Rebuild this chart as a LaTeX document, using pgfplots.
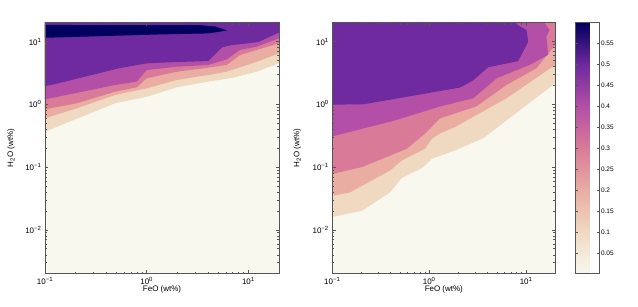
\documentclass[border=0pt]{standalone}
\usepackage{fontspec}
\setmainfont{Liberation Sans}
\usepackage{pgfplots}
\pgfplotsset{compat=1.18}
\definecolor{cCream}{RGB}{248,248,238}
\definecolor{cPeach}{RGB}{240,217,193}
\definecolor{cLPink}{RGB}{233,173,162}
\definecolor{cPink}{RGB}{217,123,152}
\definecolor{cMag}{RGB}{179,79,166}
\definecolor{cPurp}{RGB}{110,42,158}
\definecolor{cNavy}{RGB}{1,0,94}
\definecolor{axgray}{RGB}{85,85,85}
\begin{document}
\begin{tikzpicture}
\path[use as bounding box] (0,0) rectangle (638bp,307bp);
% ---------------- left panel ----------------
\begin{axis}[at={(45bp,33.3bp)}, anchor=south west, width=234bp, height=251bp,
    xmode=log, ymode=log, scale only axis,
    xmin=0.1, xmax=20, ymin=0.002, ymax=20,
    axis on top,
    axis background/.style={fill=cCream},
    axis line style={axgray, line width=0.8bp},
    tick style={axgray, line width=0.5bp},
    tick align=inside,
    xtick={0.1,1,10},
    xticklabels={10\textsuperscript{−1},10\textsuperscript{0},10\textsuperscript{1}},
    minor xtick={0.2,0.3,0.4,0.5,0.6,0.7,0.8,0.9,2,3,4,5,6,7,8,9,20},
    ytick={0.01,0.1,1,10},
    yticklabels={10\textsuperscript{−2},10\textsuperscript{−1},10\textsuperscript{0},10\textsuperscript{1}},
    minor ytick={0.002,0.003,0.004,0.005,0.006,0.007,0.008,0.009,0.02,0.03,0.04,0.05,0.06,0.07,0.08,0.09,0.2,0.3,0.4,0.5,0.6,0.7,0.8,0.9,2,3,4,5,6,7,8,9,20},
    major tick length=3.5bp, minor tick length=2bp,
    tick label style={font=\fontsize{8}{9}\selectfont},
    label style={font=\fontsize{8}{9.5}\selectfont},
    xlabel={FeO (wt\%)},
    ylabel={H\textsubscript{2}O (wt\%)},
    xlabel style={at={(axis description cs:0.5,-0.064)}, anchor=center},
    ylabel style={at={(axis description cs:-0.145,0.5)}, anchor=center}]
\addplot[fill=cPeach, draw=none] coordinates {(0.1,0.367)(0.488,1.04)(1.0,1.32)(1.97,1.87)(4.03,2.30)(7.10,2.66)(12.07,3.31)(20,4.51)(20,30)(0.1,30)};
\addplot[fill=cLPink, draw=none] coordinates {(0.1,0.60)(0.205,0.865)(0.488,1.41)(1.0,1.80)(1.97,2.44)(4.03,2.94)(6.12,3.31)(12.07,4.78)(20,6.5)(20,30)(0.1,30)};
\addplot[fill=cPink, draw=none] coordinates {(0.1,0.834)(0.205,1.04)(0.488,1.59)(0.797,1.87)(1.0,2.60)(1.97,3.31)(4.03,3.84)(6.12,4.24)(8.26,6.1)(12.07,7.35)(20,9.4)(20,30)(0.1,30)};
\addplot[fill=cMag, draw=none] coordinates {(0.1,1.20)(0.488,2.03)(0.797,2.30)(1.0,3.52)(1.97,3.98)(4.03,4.24)(6.12,5.2)(8.26,7.35)(12.07,8.3)(20,11.3)(20,30)(0.1,30)};
\addplot[fill=cPurp, draw=none] coordinates {(0.1,1.96)(0.118,2.05)(0.52,3.72)(1.0,4.5)(1.7,4.68)(4.03,4.9)(5.5,8.1)(6.6,8.7)(12.5,9.84)(20,13.9)(20,30)(0.1,30)};
\addplot[fill=cNavy, draw=none] coordinates {(0.1,18.4)(3.34,18.3)(4.7,17.4)(6.17,15.0)(4.03,13.5)(1.35,13.0)(0.1,11.5)};
\end{axis}
% ---------------- right panel ----------------
\begin{axis}[at={(332.3bp,33.3bp)}, anchor=south west, width=223bp, height=251bp,
    xmode=log, ymode=log, scale only axis,
    xmin=0.1, xmax=20, ymin=0.002, ymax=20,
    axis on top,
    axis background/.style={fill=cCream},
    axis line style={axgray, line width=0.8bp},
    tick style={axgray, line width=0.5bp},
    tick align=inside,
    xtick={0.1,1,10},
    xticklabels={10\textsuperscript{−1},10\textsuperscript{0},10\textsuperscript{1}},
    minor xtick={0.2,0.3,0.4,0.5,0.6,0.7,0.8,0.9,2,3,4,5,6,7,8,9,20},
    ytick={0.01,0.1,1,10},
    yticklabels={10\textsuperscript{−2},10\textsuperscript{−1},10\textsuperscript{0},10\textsuperscript{1}},
    minor ytick={0.002,0.003,0.004,0.005,0.006,0.007,0.008,0.009,0.02,0.03,0.04,0.05,0.06,0.07,0.08,0.09,0.2,0.3,0.4,0.5,0.6,0.7,0.8,0.9,2,3,4,5,6,7,8,9,20},
    major tick length=3.5bp, minor tick length=2bp,
    tick label style={font=\fontsize{8}{9}\selectfont},
    label style={font=\fontsize{8}{9.5}\selectfont},
    xlabel={FeO (wt\%)},
    ylabel={H\textsubscript{2}O (wt\%)},
    xlabel style={at={(axis description cs:0.5,-0.064)}, anchor=center},
    ylabel style={at={(axis description cs:-0.157,0.5)}, anchor=center},
    colormap={cm}{rgb255(0)=(248,248,238) rgb255(1)=(240,217,193) rgb255(2)=(233,173,162) rgb255(3)=(217,123,152) rgb255(4)=(179,79,166) rgb255(5)=(110,42,158) rgb255(6)=(1,0,94)},
    point meta min=0, point meta max=0.6,
    colorbar,
    colorbar style={
      at={(parent axis.north east)}, anchor=north west, xshift=12bp,
      width=24bp,
      ytick={0.05,0.1,0.15,0.2,0.25,0.3,0.35,0.4,0.45,0.5,0.55},
      yticklabels={0.05,0.1,0.15,0.2,0.25,0.3,0.35,0.4,0.45,0.5,0.55},
      ytick pos=both, yticklabel pos=right,
      tick align=inside,
      major tick length=2.5bp,
      axis line style={axgray, line width=0.8bp},
      tick style={axgray, line width=0.5bp},
      tick label style={font=\fontsize{6.5}{7.5}\selectfont, inner sep=1bp},
    }]
\addplot[fill=cPeach, draw=none] coordinates {(0.1,0.0161)(0.202,0.0201)(0.394,0.0395)(0.519,0.0667)(0.867,0.0993)(1.059,0.135)(1.84,0.184)(3.58,0.286)(20,2.17)(20,30)(0.1,30)};
\addplot[fill=cLPink, draw=none] coordinates {(0.1,0.035)(0.152,0.0395)(0.394,0.0879)(0.519,0.127)(0.903,0.195)(1.059,0.282)(1.29,0.344)(1.84,0.433)(6.28,1.25)(20,4.26)(20,30)(0.1,30)};
\addplot[fill=cPink, draw=none] coordinates {(0.1,0.0778)(0.202,0.100)(0.584,0.195)(0.903,0.340)(1.29,0.597)(3.08,0.929)(6.28,2.04)(12.8,3.77)(20,8.89)(20,30)(0.1,30)};
\addplot[fill=cMag, draw=none] coordinates {(0.1,0.308)(0.443,0.554)(1.29,0.924)(2.85,1.25)(4.99,2.61)(10.9,4.26)(16.9,6.15)(16.2,12)(17.5,15.3)(15.5,20)(15.5,30)(0.1,30)};
\addplot[fill=cPurp, draw=none] coordinates {(0.1,0.99)(0.209,1.0)(2.07,1.85)(2.43,2.1)(2.85,2.42)(4.06,3.9)(8.27,4.88)(10.5,9.9)(10.1,15.3)(8.61,17.5)(7.6,20)(7.6,30)(0.1,30)};
\end{axis}
\end{tikzpicture}
\end{document}
